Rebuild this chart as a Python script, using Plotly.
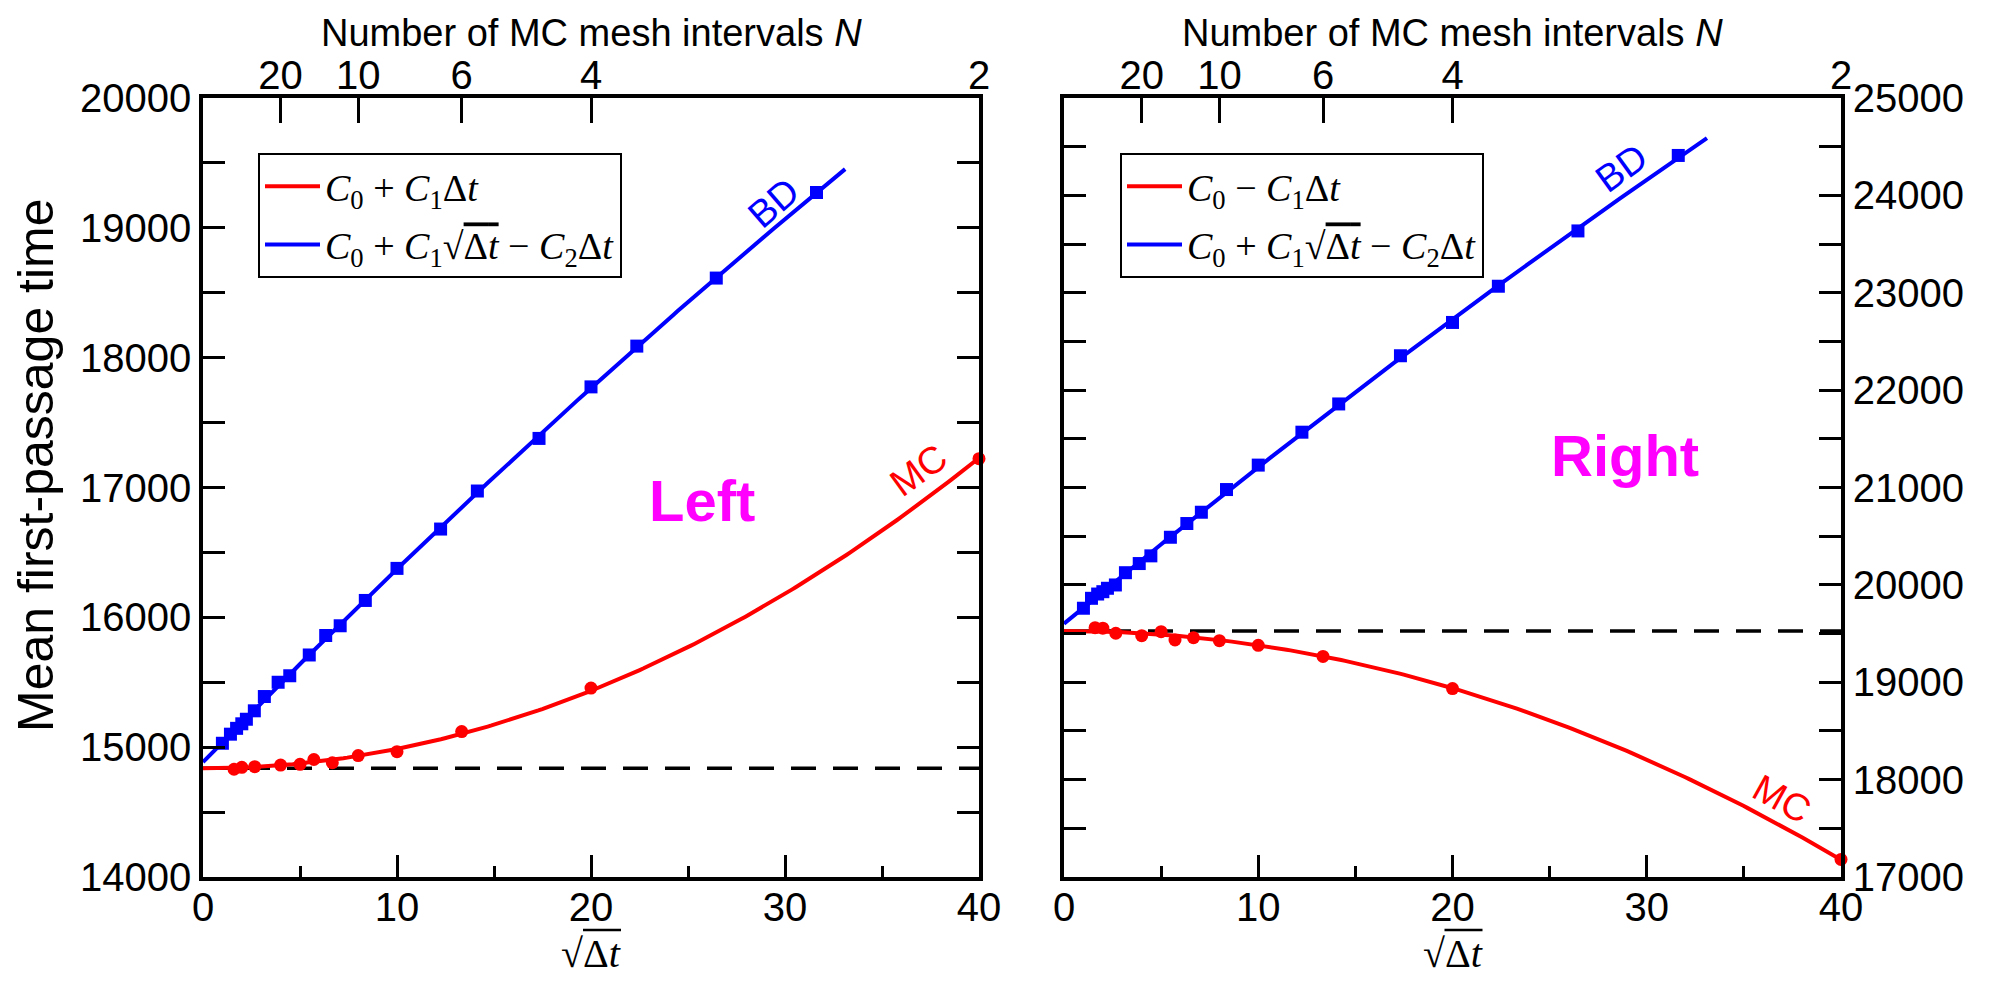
import numpy as np
import plotly.graph_objects as go

# ---------------- data ----------------
# MC: number of mesh intervals N ; sqrt(dt) = 80 / N
MC_N = [50, 40, 30, 20, 16, 14, 12, 10, 8, 6, 4, 2]
MC_LEFT = [14830, 14845, 14850, 14862, 14868, 14905, 14880, 14935, 14965, 15120, 15455, 17222]
MC_RIGHT = [19560, 19555, 19503, 19478, 19519, 19434, 19457, 19427, 19379, 19265, 18935, 17180]

# BD: time steps dt
BD_DT = [1, 2, 3, 4, 5, 7, 10, 15, 20, 30, 40, 50, 70, 100, 150, 200, 300, 400, 500, 700, 1000]
BD_LEFT = [15030, 15100, 15145, 15180, 15215, 15280, 15390, 15500, 15550, 15710, 15860, 15935,
           16130, 16377, 16680, 16973, 17378, 17775, 18089, 18613, 19272]
BD_RIGHT = [19760, 19862, 19906, 19930, 19965, 19999, 20125, 20219, 20298, 20489, 20630, 20746,
            20979, 21230, 21568, 21858, 22353, 22695, 23067, 23635, 24410]

TOP_N = [20, 10, 6, 4, 2]
BD_FIT_END = 33.1

RED = "#ff0000"
BLUE = "#0000ff"

mc_s = 80.0 / np.array(MC_N, dtype=float)
bd_s = np.sqrt(np.array(BD_DT, dtype=float))
top_s = 80.0 / np.array(TOP_N, dtype=float)


def fit_mc(vals):
    A = np.vstack([np.ones_like(mc_s), mc_s ** 2]).T
    c, *_ = np.linalg.lstsq(A, np.array(vals, float), rcond=None)
    return c


def fit_bd(vals):
    A = np.vstack([np.ones_like(bd_s), bd_s, bd_s ** 2]).T
    c, *_ = np.linalg.lstsq(A, np.array(vals, float), rcond=None)
    return c


# page has an 8px body margin: figure is placed at (8, 8)
OFF = 8
FW, FH = 1995 - OFF, 981 - OFF


def px(x):
    return (x - OFF) / FW


def py(y):
    return 1 - (y - OFF) / FH


fig = go.Figure()

panels = [
    dict(xa="x", ya="y", xt="x3", mc=MC_LEFT, bd=BD_LEFT, leg="legend",
         mc_label="<i>C</i><sub>0</sub> + <i>C</i><sub>1</sub>Δ<i>t</i>"),
    dict(xa="x2", ya="y2", xt="x4", mc=MC_RIGHT, bd=BD_RIGHT, leg="legend2",
         mc_label="<i>C</i><sub>0</sub> − <i>C</i><sub>1</sub>Δ<i>t</i>"),
]
bd_label = ("<i>C</i><sub>0</sub> + <i>C</i><sub>1</sub>√<span style='text-decoration:overline'>Δ<i>t</i></span>"
            " − <i>C</i><sub>2</sub>Δ<i>t</i>")

for p in panels:
    cm = fit_mc(p["mc"])
    cb = fit_bd(p["bd"])
    s_mc = np.linspace(0, 40, 200)
    s_bd = np.linspace(0, BD_FIT_END, 200)
    # invisible trace to activate the top (N) axis
    fig.add_trace(go.Scatter(x=[0, 40], y=[None, None], mode="markers", xaxis=p["xt"], yaxis=p["ya"],
                             marker=dict(opacity=0), showlegend=False, hoverinfo="skip"))
    # dashed C0 line
    fig.add_trace(go.Scatter(x=[0, 40], y=[cm[0], cm[0]], mode="lines", xaxis=p["xa"], yaxis=p["ya"],
                             line=dict(color="black", width=3.5, dash="25px,17px"), showlegend=False,
                             hoverinfo="skip"))
    # fits
    fig.add_trace(go.Scatter(x=s_mc, y=cm[0] + cm[1] * s_mc ** 2, mode="lines", xaxis=p["xa"], yaxis=p["ya"],
                             line=dict(color=RED, width=4), showlegend=False))
    fig.add_trace(go.Scatter(x=s_bd, y=cb[0] + cb[1] * s_bd + cb[2] * s_bd ** 2, mode="lines",
                             xaxis=p["xa"], yaxis=p["ya"], line=dict(color=BLUE, width=4), showlegend=False))
    # data points
    fig.add_trace(go.Scatter(x=mc_s, y=p["mc"], mode="markers", xaxis=p["xa"], yaxis=p["ya"],
                             marker=dict(color=RED, size=13, symbol="circle"), showlegend=False,
                             cliponaxis=False))
    fig.add_trace(go.Scatter(x=bd_s, y=p["bd"], mode="markers", xaxis=p["xa"], yaxis=p["ya"],
                             marker=dict(color=BLUE, size=13, symbol="square"), showlegend=False))
    # legend entries
    fig.add_trace(go.Scatter(x=[None], y=[None], mode="lines", xaxis=p["xa"], yaxis=p["ya"],
                             line=dict(color=RED, width=4), name=p["mc_label"], legend=p["leg"],
                             legendgroup=p["leg"] + "a"))
    fig.add_trace(go.Scatter(x=[None], y=[None], mode="lines", xaxis=p["xa"], yaxis=p["ya"],
                             line=dict(color=BLUE, width=4), name=bd_label, legend=p["leg"],
                             legendgroup=p["leg"] + "b"))

PANEL_PX = [(203, 979), (1064, 1841)]
L_DOM = [px(203), px(979)]
R_DOM = [px(1064), px(1841)]
Y_DOM = [py(877), py(98)]

SANS = "Liberation Sans, Arial"
SERIF = "Liberation Serif, Times New Roman"
TICKFONT = dict(family=SANS, size=40, color="black")

common_x = dict(range=[0, 40], tickvals=[0, 10, 20, 30, 40], ticks="inside", ticklen=22, tickwidth=2.5,
                tickcolor="black", showline=True, linewidth=3.5, linecolor="black", mirror=True,
                showgrid=False, zeroline=False, tickfont=TICKFONT, automargin=False, ticklabelstandoff=-8,
                minor=dict(dtick=5, tick0=0, ticks="inside", ticklen=11, tickwidth=2.5, tickcolor="black",
                           showgrid=False))
common_top = dict(range=[0, 40], tickmode="array", tickvals=list(top_s), ticktext=[str(n) for n in TOP_N],
                  side="top", ticks="inside", ticklen=25, tickwidth=2.5, tickcolor="black", showline=False,
                  showgrid=False, zeroline=False, tickfont=TICKFONT, automargin=False)
common_y = dict(ticks="inside", ticklen=22, tickwidth=2.5, tickcolor="black", showline=True, linewidth=3.5,
                linecolor="black", mirror="allticks", showgrid=False, zeroline=False, tickfont=TICKFONT,
                dtick=1000, tickformat="d", automargin=False,
                minor=dict(dtick=500, ticks="inside", ticklen=11, tickwidth=2.5, tickcolor="black",
                           showgrid=False))

legend_common = dict(bgcolor="white", bordercolor="black", borderwidth=2, xanchor="left", yanchor="top",
                     font=dict(family=SERIF, size=38, color="black"),
                     itemwidth=55, tracegroupgap=6, traceorder="grouped")

fig.update_layout(
    width=FW, height=FH, margin=dict(l=0, r=0, t=0, b=0, autoexpand=False),
    paper_bgcolor="white", plot_bgcolor="white",
    xaxis=dict(domain=L_DOM, anchor="y", **common_x),
    xaxis2=dict(domain=R_DOM, anchor="y2", **common_x),
    xaxis3=dict(overlaying="x", anchor="y", **common_top),
    xaxis4=dict(overlaying="x2", anchor="y2", **common_top),
    yaxis=dict(domain=Y_DOM, anchor="x", range=[14000, 20000], side="left", **common_y),
    yaxis2=dict(domain=Y_DOM, anchor="x2", range=[17000, 25000], side="right", **common_y),
    legend=dict(x=px(258), y=py(153), **legend_common),
    legend2=dict(x=px(1120), y=py(153), **legend_common),
    showlegend=True,
)

ann = [dict(text="Mean first-passage time", x=px(36), y=py(465), xref="paper", yref="paper",
            showarrow=False, textangle=-90, xanchor="center", yanchor="middle",
            font=dict(family=SANS, size=50, color="black"))]
shapes = []
for (a, b) in PANEL_PX:
    cpx = (a + b) / 2
    ann.append(dict(text="Number of MC mesh intervals <i>N</i>", x=px(cpx), y=py(33), xref="paper",
                    yref="paper", showarrow=False, xanchor="center", yanchor="middle",
                    font=dict(family=SANS, size=38, color="black")))
    ann.append(dict(text="√Δ<i>t</i>", x=px(cpx), y=py(953),
                    xref="paper", yref="paper", showarrow=False, xanchor="center", yanchor="middle",
                    font=dict(family=SERIF, size=40, color="black")))
    # vinculum of the square root
    shapes.append(dict(type="line", xref="paper", yref="paper", x0=px(cpx - 8), x1=px(cpx + 30),
                       y0=py(930), y1=py(930), line=dict(color="black", width=2.5)))

lab_font = dict(family=SANS, size=38)
ann += [
    dict(text="BD", x=29.4, y=19193, xref="x", yref="y", showarrow=False, textangle=-41,
         font=dict(color=BLUE, **lab_font)),
    dict(text="MC", x=36.9, y=17134, xref="x", yref="y", showarrow=False, textangle=-36,
         font=dict(color=RED, **lab_font)),
    dict(text="<b>Left</b>", x=25.7, y=16900, xref="x", yref="y", showarrow=False,
         font=dict(color="#ff00ff", family=SANS, size=58)),
    dict(text="BD", x=28.7, y=24281, xref="x2", yref="y2", showarrow=False, textangle=-36,
         font=dict(color=BLUE, **lab_font)),
    dict(text="MC", x=36.96, y=17796, xref="x2", yref="y2", showarrow=False, textangle=29,
         font=dict(color=RED, **lab_font)),
    dict(text="<b>Right</b>", x=28.9, y=21330, xref="x2", yref="y2", showarrow=False,
         font=dict(color="#ff00ff", family=SANS, size=58)),
]
fig.update_layout(annotations=ann, shapes=shapes)

fig.write_html("out.html")
